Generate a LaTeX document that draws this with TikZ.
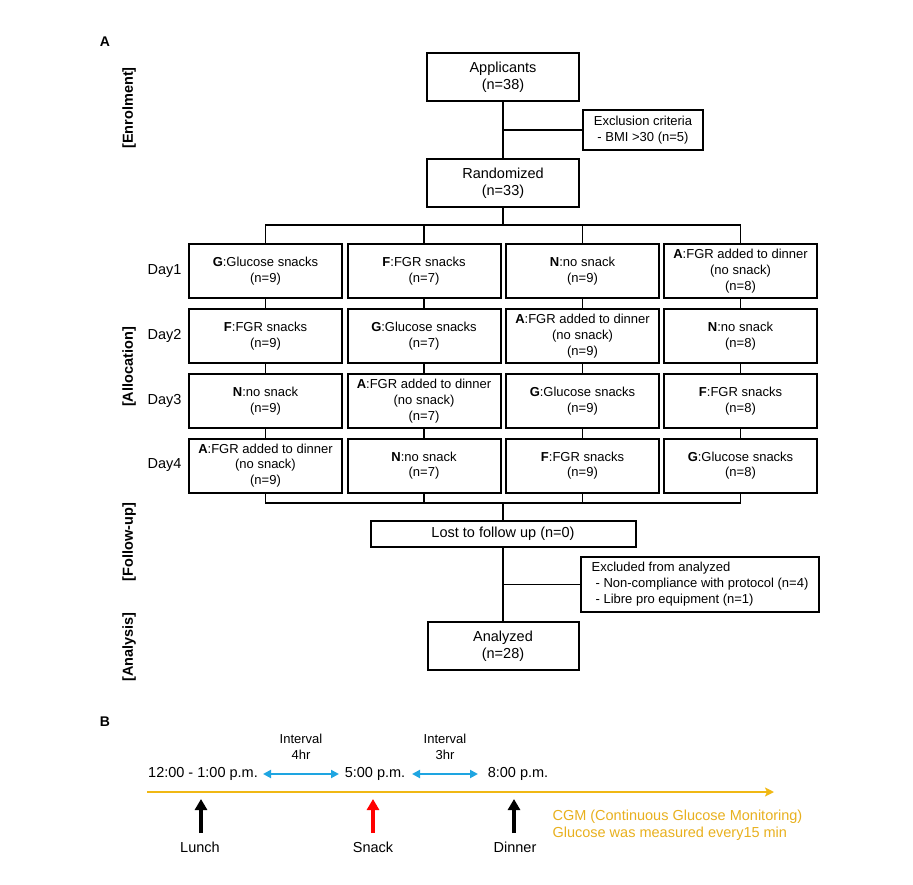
\documentclass[tikz,border=0pt]{standalone}
\usepackage{fontspec}
\setmainfont{Liberation Sans}
\usetikzlibrary{arrows.meta}
\definecolor{gold}{RGB}{240,184,20}
\definecolor{goldtext}{RGB}{232,176,30}
\definecolor{skyb}{RGB}{30,165,225}
\tikzset{
  bigbox/.style={draw, line width=2pt, minimum width=152pt, minimum height=48pt, inner sep=0pt, align=center, font=\fontsize{14.5}{17}\selectfont},
  daybox/.style={draw, line width=2pt, minimum width=153pt, minimum height=54pt, inner sep=0pt, align=center, font=\fontsize{13}{15.7}\selectfont},
  sidebox/.style={draw, line width=2pt, inner sep=0pt, font=\fontsize{13}{16}\selectfont},
  conn/.style={line width=1.8pt},
  thin/.style={line width=1.1pt},
  phase/.style={rotate=90, font=\bfseries\fontsize{14.5}{17}\selectfont},
  daylab/.style={font=\fontsize{14.5}{17}\selectfont},
  tl/.style={font=\fontsize{14.5}{17}\selectfont},
  intl/.style={font=\fontsize{13}{16}\selectfont, align=center},
  meal/.style={line width=3.4pt, -{Triangle[length=11pt,width=12pt]}},
  blu/.style={skyb, line width=2pt, {Triangle[length=8pt,width=8pt]}-{Triangle[length=8pt,width=8pt]}}
}
\begin{document}
\begin{tikzpicture}[x=1pt,y=-1pt]
\useasboundingbox (0,0) rectangle (913,885);
% panel labels
\node[font=\bfseries\fontsize{14}{16}\selectfont] (lA) at (105,42) {A};
\node[font=\bfseries\fontsize{14}{16}\selectfont] (lB) at (105,722) {B};
% phase labels
\node[phase] (p1) at (129,108) {[Enrolment]};
\node[phase] (p2) at (129,367) {[Allocation]};
\node[phase] (p3) at (129,542) {[Follow-up]};
\node[phase] (p4) at (129,647) {[Analysis]};
% enrolment
\node[bigbox] (app) at (503,77) {Applicants\\(n=38)};
\node[sidebox, minimum width=120pt, minimum height=40pt, align=center] (exc) at (643,130) {Exclusion criteria\\- BMI >30 (n=5)};
\node[bigbox] (rand) at (503,183) {Randomized\\(n=33)};
\coordinate (j1) at (503,130);
\draw[conn] (app.south) -- (rand.north);
\draw[thin] (j1) -- (exc.west);
% day labels
\node[daylab] (d1) at (164.5,271) {Day1};
\node[daylab] (d2) at (164.5,336) {Day2};
\node[daylab] (d3) at (164.5,401) {Day3};
\node[daylab] (d4) at (164.5,465.5) {Day4};
% column 1
\node[daybox] (a1) at (265.5,271) {\textbf{G}:Glucose snacks\\(n=9)};
\node[daybox] (a2) at (265.5,336) {\textbf{F}:FGR snacks\\(n=9)};
\node[daybox] (a3) at (265.5,401) {\textbf{N}:no snack\\(n=9)};
\node[daybox] (a4) at (265.5,465.5) {\textbf{A}:FGR added to dinner\\(no snack)\\(n=9)};
% column 2
\node[daybox] (b1) at (424,271) {\textbf{F}:FGR snacks\\(n=7)};
\node[daybox] (b2) at (424,336) {\textbf{G}:Glucose snacks\\(n=7)};
\node[daybox] (b3) at (424,401) {\textbf{A}:FGR added to dinner\\(no snack)\\(n=7)};
\node[daybox] (b4) at (424,465.5) {\textbf{N}:no snack\\(n=7)};
% column 3
\node[daybox] (c1) at (582.5,271) {\textbf{N}:no snack\\(n=9)};
\node[daybox] (c2) at (582.5,336) {\textbf{A}:FGR added to dinner\\(no snack)\\(n=9)};
\node[daybox] (c3) at (582.5,401) {\textbf{G}:Glucose snacks\\(n=9)};
\node[daybox] (c4) at (582.5,465.5) {\textbf{F}:FGR snacks\\(n=9)};
% column 4
\node[daybox] (e1) at (740.5,271) {\textbf{A}:FGR added to dinner\\(no snack)\\(n=8)};
\node[daybox] (e2) at (740.5,336) {\textbf{N}:no snack\\(n=8)};
\node[daybox] (e3) at (740.5,401) {\textbf{F}:FGR snacks\\(n=8)};
\node[daybox] (e4) at (740.5,465.5) {\textbf{G}:Glucose snacks\\(n=8)};
% branching
\coordinate (br) at (503,225);
\draw[conn] (rand.south) -- (br);
\draw[conn] (a1.north) |- (br) -| (e1.north);
\draw[conn] (b1.north) |- (br);
\draw[conn] (c1.north) |- (br);
\foreach \c in {a,b,c,e}{
  \draw[conn] (\c1.south) -- (\c2.north);
  \draw[conn] (\c2.south) -- (\c3.north);
  \draw[conn] (\c3.south) -- (\c4.north);
}
% join
\node[sidebox, minimum width=265pt, minimum height=26pt, font=\fontsize{14.5}{17}\selectfont] (lost) at (503,534) {Lost to follow up (n=0)};
\coordinate (jn) at (503,503);
\draw[conn] (a4.south) |- (jn) -| (e4.south);
\draw[conn] (b4.south) |- (jn);
\draw[conn] (c4.south) |- (jn);
\draw[conn] (jn) -- (lost.north);
% analysis
\node[sidebox, minimum width=238pt, minimum height=55pt, align=left] (exa) at (700,584.5) {Excluded from analyzed\\\hspace*{4pt}- Non-compliance with protocol (n=4)\\\hspace*{4pt}- Libre pro equipment (n=1)};
\node[bigbox, minimum width=151pt] (ana) at (503,646) {Analyzed\\(n=28)};
\coordinate (j2) at (503,584.5);
\draw[conn] (lost.south) -- (ana.north);
\draw[thin] (j2) -- (exa.west);
% ---------- panel B ----------
\coordinate (ts) at (147,792);
\coordinate (te) at (774,792);
\draw[gold, line width=1.8pt, -{Stealth[length=9pt,width=9pt,inset=2pt]}] (ts) -- (te);
\node[tl] (t1) at (203,774) {12:00 - 1:00 p.m.};
\node[tl] (t2) at (375,774) {5:00 p.m.};
\node[tl] (t3) at (518,774) {8:00 p.m.};
\node[intl] (i1) at (301,747) {Interval\\4hr};
\node[intl] (i2) at (445,747) {Interval\\3hr};
\coordinate (s1) at (263,774);
\coordinate (s2) at (339,774);
\coordinate (s3) at (412,774);
\coordinate (s4) at (478,774);
\draw[blu] (s1) -- (s2);
\draw[blu] (s3) -- (s4);
\node[tl] (lun) at (200,847) {Lunch};
\node[tl] (snk) at (373,847) {Snack};
\node[tl] (din) at (515,847) {Dinner};
\coordinate (m1) at (201,799);
\coordinate (m2) at (373,799);
\coordinate (m3) at (514,799);
\coordinate (n1) at (201,833);
\coordinate (n2) at (373,833);
\coordinate (n3) at (514,833);
\draw[meal] (n1) -- (m1);
\draw[meal, red] (n2) -- (m2);
\draw[meal] (n3) -- (m3);
\node[anchor=west, align=left, text=goldtext, font=\fontsize{14.5}{17}\selectfont] (cgm) at (549,825.5) {CGM (Continuous Glucose Monitoring)\\Glucose was measured every15 min};
\end{tikzpicture}
\end{document}
